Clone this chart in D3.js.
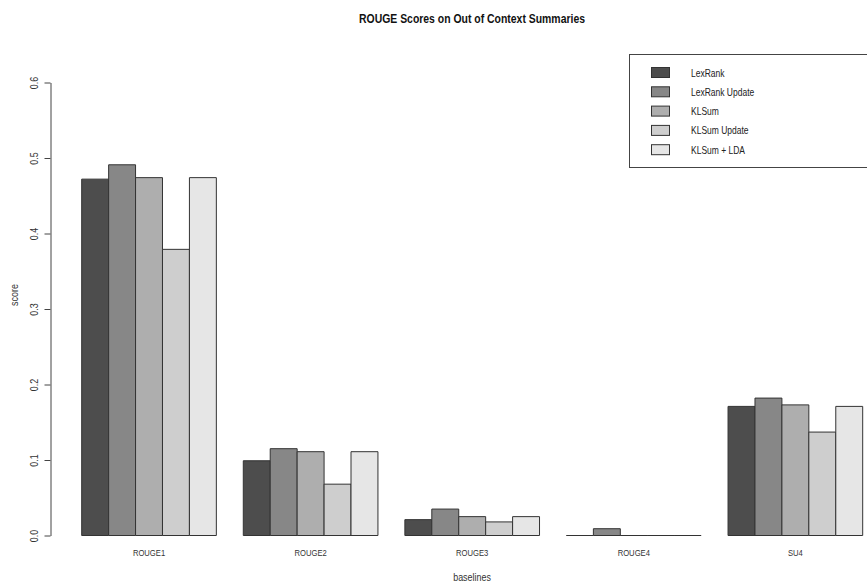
<!DOCTYPE html>
<html>
<head>
<meta charset="utf-8">
<script src="https://cdn.jsdelivr.net/npm/d3@7"></script>
<style>
  body { margin: 0; background: #fff; }
  svg { display: block; font-family: "Liberation Sans", Arial, sans-serif; }
</style>
</head>
<body>
<svg width="867" height="584"></svg>
<script>
// data
const categories = ["ROUGE1", "ROUGE2", "ROUGE3", "ROUGE4", "SU4"];
const seriesNames = ["LexRank", "LexRank Update", "KLSum", "KLSum Update", "KLSum + LDA"];
const lexRank       = [0.472, 0.099, 0.021, 0.000, 0.171];
const lexRankUpdate = [0.491, 0.115, 0.035, 0.009, 0.182];
const klSum         = [0.474, 0.111, 0.025, 0.000, 0.173];
const klSumUpdate   = [0.379, 0.068, 0.018, 0.000, 0.137];
const klSumLda      = [0.474, 0.111, 0.025, 0.000, 0.171];
const yTicks = [0, 0.1, 0.2, 0.3, 0.4, 0.5, 0.6];

// the original text is a bit narrower than Liberation Sans
const squeeze = "scale(0.85,1)";

var chart = function () {
    const svg = d3.select('svg');

    const values = [lexRank, lexRankUpdate, klSum, klSumUpdate, klSumLda];
    const rows = [];
    categories.forEach((c, i) => {
        seriesNames.forEach((s, j) => {
            rows.push({ cat: c, key: s, value: values[j][i] });
        });
    });

    const color = d3.scaleOrdinal()
        .domain(seriesNames)
        .range(["#4D4D4D", "#878787", "#AEAEAE", "#CECECE", "#E6E6E6"]);

    const x0 = d3.scaleBand()
        .domain(categories)
        .range([81.7, 862.7])
        .paddingInner(1 / 6)
        .paddingOuter(0);

    const x1 = d3.scaleBand()
        .domain(seriesNames)
        .range([0, x0.bandwidth()]);

    const yScale = d3.scaleLinear()
        .domain([0, 0.6])
        .range([535.5, 82.5]);

    // bars as paths so that zero values still show as a line on the baseline
    svg.append("g")
        .selectAll("path")
        .data(rows)
        .join("path")
            .attr("d", d => {
                const x = x0(d.cat) + x1(d.key);
                const w = x1.bandwidth();
                const y = yScale(d.value);
                const b = yScale(0);
                return `M${x},${b}V${y}H${x + w}V${b}Z`;
            })
            .attr("fill", d => color(d.key))
            .attr("stroke", "#333")
            .attr("stroke-width", 1);

    // y axis
    const yAxis = svg.append("g")
        .attr("transform", "translate(50.5,0)")
        .call(d3.axisLeft(yScale).tickValues(yTicks).tickFormat(d3.format(".1f")).tickSize(6).tickSizeOuter(0));
    yAxis.select(".domain").attr("stroke", "#444");
    yAxis.selectAll(".tick line").attr("stroke", "#444");
    yAxis.selectAll(".tick text")
        .attr("x", null).attr("dy", null)
        .attr("transform", "translate(-13,0) rotate(-90) " + squeeze)
        .attr("text-anchor", "middle")
        .attr("font-size", 10.5)
        .attr("fill", "#333");

    // group labels
    svg.append("g")
        .selectAll("text")
        .data(categories)
        .join("text")
            .attr("transform", d => `translate(${x0(d) + x0.bandwidth() / 2},556) ${squeeze}`)
            .attr("text-anchor", "middle")
            .attr("font-size", 9)
            .attr("fill", "#333")
            .text(d => d);

    // titles
    svg.append("text")
        .attr("transform", "translate(472,23) scale(0.87,1)")
        .attr("text-anchor", "middle")
        .attr("font-size", 12).attr("font-weight", "bold")
        .attr("fill", "#111")
        .text("ROUGE Scores on Out of Context Summaries");

    svg.append("text")
        .attr("transform", "translate(472,581) " + squeeze)
        .attr("text-anchor", "middle")
        .attr("font-size", 10.5).attr("fill", "#333")
        .text("baselines");

    svg.append("text")
        .attr("transform", "translate(18,295) rotate(-90) " + squeeze)
        .attr("text-anchor", "middle")
        .attr("font-size", 10.5).attr("fill", "#333")
        .text("score");

    // legend
    const legend = svg.append("g");
    legend.append("rect")
        .attr("x", 629.5).attr("y", 54.5)
        .attr("width", 260).attr("height", 113)
        .attr("fill", "#fff").attr("stroke", "#444");

    const item = legend.selectAll("g.item")
        .data(seriesNames)
        .join("g")
            .attr("class", "item")
            .attr("transform", (d, i) => `translate(0,${72.5 + i * 19.3})`);
    item.append("rect")
        .attr("x", 651.5).attr("y", -5)
        .attr("width", 18).attr("height", 10)
        .attr("fill", d => color(d))
        .attr("stroke", "#333");
    item.append("text")
        .attr("transform", "translate(691,4) " + squeeze)
        .attr("font-size", 10).attr("fill", "#222")
        .text(d => d);
};

chart();
</script>
</body>
</html>
